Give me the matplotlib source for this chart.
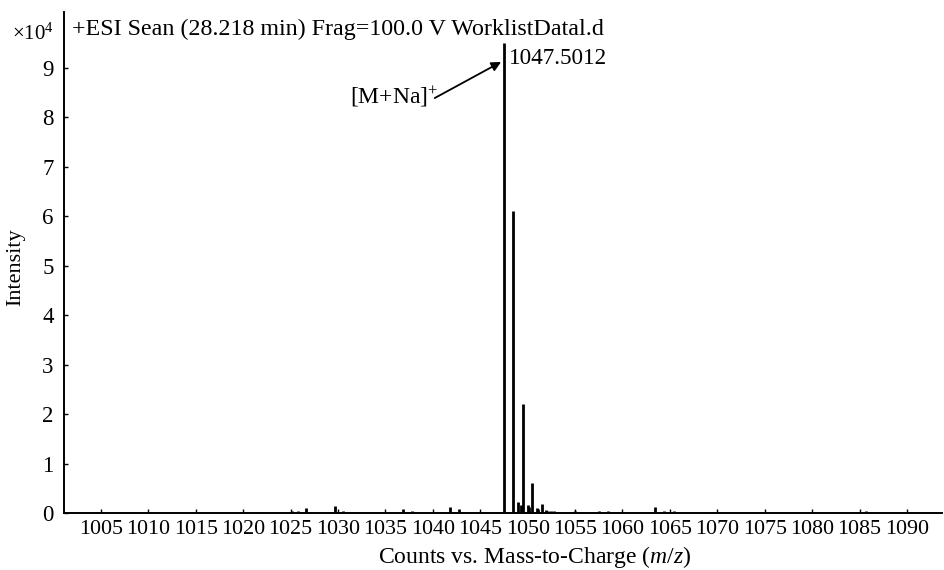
import matplotlib
matplotlib.use("Agg")
import matplotlib.pyplot as plt

plt.rcParams['font.family'] = ['Liberation Serif', 'DejaVu Serif']
plt.rcParams['mathtext.fontset'] = 'custom'
plt.rcParams['mathtext.rm'] = 'Liberation Serif'
plt.rcParams['mathtext.it'] = 'Liberation Serif:italic'

# m/z values and intensities (x10^4)
mz = [1007.8, 1021.6, 1025.1, 1025.8, 1026.6, 1029.7, 1030.5, 1031.6,
      1036.9, 1037.8, 1041.8, 1042.8, 1043.7,
      1047.5, 1048.5, 1049.0, 1049.3, 1049.5, 1050.05, 1050.15, 1050.5,
      1050.95, 1051.1, 1051.5, 1051.9, 1052.1, 1052.5, 1052.8, 1053.1,
      1053.5, 1054.2, 1054.8, 1055.0,
      1057.5, 1058.5, 1063.4, 1064.4, 1065.4, 1069.4, 1085.7]
intensity = [0.03, 0.03, 0.04, 0.04, 0.10, 0.14, 0.05, 0.03,
             0.08, 0.04, 0.12, 0.08, 0.03,
             9.50, 6.10, 0.23, 0.16, 2.20, 0.16, 0.13, 0.60,
             0.10, 0.08, 0.18, 0.06, 0.05, 0.04, 0.04, 0.03,
             0.03, 0.02, 0.03, 0.04,
             0.04, 0.04, 0.12, 0.04, 0.05, 0.03, 0.04]
xticks = list(range(1005, 1091, 5))
yticks = list(range(0, 10))

fig = plt.figure(figsize=(9.44, 5.70), dpi=100)
ax = fig.add_axes([64/944, 1-513/570, (942-64)/944, (513-12)/570])

ax.vlines(mz, 0, intensity, colors='black', linewidth=2)
ax.set_xlim(1001.1, 1093.7)
ax.set_ylim(0, 10.13)
ax.set_xticks(xticks)
ax.set_xticklabels([str(t) for t in xticks])
ax.set_yticks(yticks)
ax.tick_params(axis='both', direction='in', length=3, width=1)
ax.tick_params(axis='x', labelsize=15.8, pad=5)
ax.tick_params(axis='y', labelsize=16.5, pad=7.5)
ax.spines['top'].set_visible(False)
ax.spines['right'].set_visible(False)
for s in ('left', 'bottom'):
    ax.spines[s].set_linewidth(1.4)

fig.text(535/944, 1-557/570, 'Counts vs. Mass-to-Charge ($\\mathit{m/z}$)',
         fontsize=17, ha='center', va='center')
fig.text(16/944, 1-267/570, 'Intensity', fontsize=16, rotation=90,
         ha='center', va='center')

fig.text(72/944, 1-29/570, '+ESI Sean (28.218 min) Frag=100.0 V WorklistDatal.d',
         fontsize=17.3, ha='left', va='center')
fig.text(12/944, 1-34/570, '$\\times$10$^{4}$', fontsize=15, ha='left', va='center')

ax.text(1047.5 + 0.55, 9.40, '1047.5012', fontsize=16.7, ha='left', va='top')
ax.text(1040.55, 8.29, '[M+Na]$^{+}$', fontsize=17, ha='right', va='baseline')
ax.annotate('', xy=(1047.2, 9.12), xytext=(1040.2, 8.39),
            arrowprops=dict(arrowstyle='-|>', color='black', lw=1.3,
                            shrinkA=0, shrinkB=0, mutation_scale=14))

fig.savefig('out.png', dpi=100)
